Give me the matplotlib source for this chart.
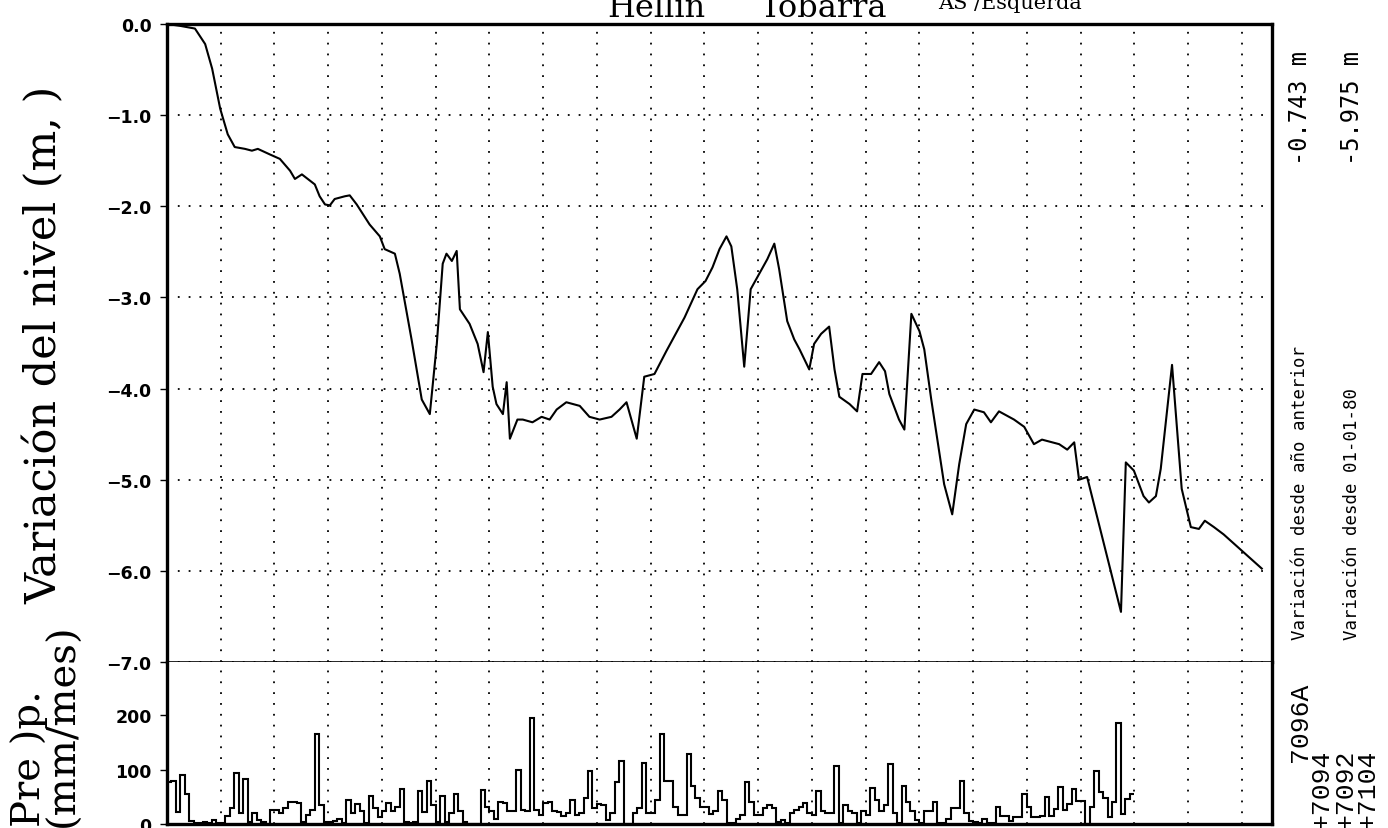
import numpy as np
import matplotlib
matplotlib.use('Agg')
import matplotlib.pyplot as plt

plt.rcParams['font.family'] = ['DejaVu Sans']

# nivel piezometrico: anos desde 01-01-80 y variacion (m)
t_nivel = [0.00, 0.24, 0.52, 0.71, 0.84, 0.99, 1.13, 1.26, 1.45, 1.58, 1.69, 1.91,
           2.10, 2.29, 2.38, 2.51, 2.75, 2.84, 2.94, 3.03, 3.12, 3.31, 3.40, 3.53,
           3.77, 3.96, 4.05, 4.24, 4.33, 4.55, 4.74, 4.89, 5.02, 5.13, 5.20, 5.30,
           5.39, 5.45, 5.63, 5.78, 5.89, 5.97, 6.06, 6.13, 6.25, 6.32, 6.38, 6.52,
           6.62, 6.80, 6.97, 7.12, 7.25, 7.43, 7.68, 7.86, 8.05, 8.27, 8.42, 8.55,
           8.74, 8.88, 9.07, 9.29, 9.63, 9.87, 10.02, 10.15, 10.28, 10.41, 10.50, 10.61,
           10.74, 10.86, 11.02, 11.17, 11.30, 11.39, 11.54, 11.67, 11.77, 11.86, 11.95, 12.04,
           12.17, 12.32, 12.42, 12.51, 12.70, 12.84, 12.94, 13.10, 13.25, 13.36, 13.44, 13.62,
           13.72, 13.85, 14.00, 14.09, 14.22, 14.46, 14.61, 14.74, 14.87, 15.02, 15.20, 15.33,
           15.48, 15.76, 15.95, 16.13, 16.28, 16.60, 16.75, 16.88, 16.97, 17.12, 17.75, 17.84,
           17.99, 18.17, 18.27, 18.40, 18.49, 18.70, 18.88, 19.05, 19.20, 19.31, 19.48, 19.66,
           20.37]
nivel = [0.00, -0.02, -0.05, -0.22, -0.49, -0.93, -1.21, -1.35, -1.37, -1.39, -1.37, -1.43,
         -1.48, -1.61, -1.70, -1.65, -1.76, -1.89, -1.98, -1.99, -1.92, -1.89, -1.88, -1.98,
         -2.20, -2.33, -2.47, -2.52, -2.74, -3.46, -4.12, -4.28, -3.51, -2.63, -2.52, -2.60,
         -2.49, -3.13, -3.29, -3.51, -3.82, -3.38, -3.98, -4.17, -4.28, -3.93, -4.55, -4.34,
         -4.34, -4.37, -4.31, -4.34, -4.23, -4.15, -4.19, -4.31, -4.34, -4.31, -4.23, -4.15,
         -4.55, -3.87, -3.84, -3.59, -3.22, -2.91, -2.82, -2.67, -2.47, -2.33, -2.44, -2.91,
         -3.76, -2.91, -2.74, -2.58, -2.41, -2.69, -3.26, -3.46, -3.57, -3.68, -3.79, -3.51,
         -3.40, -3.32, -3.79, -4.09, -4.17, -4.25, -3.84, -3.84, -3.71, -3.81, -4.06, -4.34,
         -4.45, -3.18, -3.37, -3.57, -4.12, -5.05, -5.38, -4.83, -4.39, -4.23, -4.26, -4.37,
         -4.25, -4.34, -4.42, -4.61, -4.56, -4.61, -4.67, -4.59, -5.00, -4.97, -6.45, -4.81,
         -4.90, -5.18, -5.25, -5.18, -4.88, -3.74, -5.10, -5.52, -5.54, -5.45, -5.52, -5.60,
         -5.975]

# precipitacion mensual (mm/mes)
p1980 = [78, 80, 22, 90, 55, 5, 2, 1, 3, 1, 7, 1]
p1981 = [2, 15, 30, 94, 20, 83, 4, 21, 7, 3, 0, 26]
p1982 = [26, 20, 29, 41, 40, 38, 4, 17, 26, 165, 35, 4]
p1983 = [4, 6, 9, 2, 44, 20, 36, 23, 2, 51, 29, 12]
p1984 = [23, 38, 23, 32, 64, 3, 1, 3, 61, 22, 80, 35]
p1985 = [3, 52, 4, 20, 55, 24, 4, 0, 0, 0, 62, 32]
p1986 = [23, 10, 40, 38, 23, 23, 100, 26, 23, 195, 26, 17]
p1987 = [38, 40, 23, 22, 14, 21, 44, 17, 20, 47, 97, 29]
p1988 = [37, 35, 7, 20, 78, 115, 0, 0, 21, 29, 113, 20]
p1989 = [20, 44, 166, 80, 80, 32, 17, 17, 128, 69, 48, 32]
p1990 = [32, 18, 23, 60, 44, 2, 1, 10, 17, 78, 41, 17]
p1991 = [17, 29, 35, 29, 4, 8, 2, 20, 26, 32, 38, 20]
p1992 = [17, 60, 23, 20, 20, 106, 2, 35, 23, 20, 2, 23]
p1993 = [17, 66, 44, 23, 35, 110, 20, 1, 69, 41, 23, 7]
p1994 = [2, 24, 24, 41, 2, 2, 10, 29, 30, 80, 20, 5]
p1995 = [3, 1, 10, 1, 2, 31, 15, 15, 5, 12, 12, 56]
p1996 = [31, 12, 12, 15, 50, 15, 28, 68, 25, 37, 65, 43]
p1997 = [43, 0, 31, 97, 59, 48, 12, 41, 185, 19, 46, 56]

precip = (p1980 + p1981 + p1982 + p1983 + p1984 + p1985 + p1986 + p1987 + p1988
          + p1989 + p1990 + p1991 + p1992 + p1993 + p1994 + p1995 + p1996 + p1997)

nivel_ticks = [0, -1, -2, -3, -4, -5, -6, -7]
prec_ticks = [0, 100, 200]
estaciones = ['7096A', '+7094', '+7092', '+7104']

W, H = 1388, 829
fig = plt.figure(figsize=(W / 100, H / 100), dpi=100)


def box(x0, y0, x1, y1):
    return [x0 / W, 1 - y1 / H, (x1 - x0) / W, (y1 - y0) / H]


ax = fig.add_axes(box(167, 25, 1272, 663))
axp = fig.add_axes(box(167, 663, 1272, 825))

dots = (0, (1, 5))
years = np.arange(1981, 2001)
x_fin = 2000.56

# --- nivel ---
ax.plot(1980 + np.array(t_nivel), nivel, color='black', lw=1.5)
ax.set_xlim(1980, x_fin)
ax.set_ylim(-7, 0)
ax.set_xticks(years)
ax.set_yticks(nivel_ticks)
ax.set_yticklabels(['0.0' if v == 0 else '\u2212%.1f' % abs(v) for v in nivel_ticks])
ax.tick_params(axis='x', length=0, labelbottom=False)
ax.tick_params(axis='y', direction='out', length=5, width=1, pad=6, labelsize=12.5)
ax.grid(True, color='black', linestyle=dots, lw=1.3)
for lab in ax.get_yticklabels():
    lab.set_fontweight('bold')
for s in ['left', 'top', 'right']:
    ax.spines[s].set_linewidth(2.4)
ax.spines['bottom'].set_linewidth(1.2)

# --- precipitacion ---
edges = 1980 + np.arange(len(precip) + 1) / 12
axp.stairs(precip, edges, baseline=None, color='black', lw=1.5)
axp.set_xlim(1980, x_fin)
axp.set_ylim(0, 298)
axp.set_xticks(years)
axp.set_yticks(prec_ticks)
axp.tick_params(axis='x', length=0, labelbottom=False)
axp.tick_params(axis='y', direction='out', length=5, width=1, pad=6, labelsize=12.5)
axp.grid(True, axis='x', color='black', linestyle=dots, lw=1.3)
for lab in axp.get_yticklabels():
    lab.set_fontweight('bold')
axp.spines['top'].set_visible(False)
for s in ['left', 'bottom', 'right']:
    axp.spines[s].set_linewidth(2.4)

# --- textos ---
serif = 'DejaVu Serif'
fig.text(45 / W, 1 - 345 / H, 'Variación del nivel (m, )', rotation=90,
         ha='center', va='center', family=serif, size=31)
fig.text(29 / W, 2 / H, 'Pre )p.', rotation=90, ha='center', va='bottom',
         family=serif, size=29)
fig.text(63 / W, 2 / H, '(mm/mes)', rotation=90, ha='center', va='bottom',
         family=serif, size=29)

fig.text(705 / W, 1 - 17 / H, 'Hellín', ha='right', va='baseline', family=serif, size=23)
fig.text(760 / W, 1 - 17 / H, 'Tobarra', ha='left', va='baseline', family=serif, size=23)
fig.text(938 / W, 1 - 9 / H, 'AS /Esquerda', ha='left', va='baseline', family=serif, size=15)

mono = 'DejaVu Sans Mono'
fig.text(1300 / W, 1 - 640 / H, 'Variación desde año anterior', rotation=90,
         ha='center', va='bottom', family=mono, size=12.5)
fig.text(1300 / W, 1 - 165 / H, '-0.743 m', rotation=90,
         ha='center', va='bottom', family=mono, size=17)
fig.text(1352 / W, 1 - 640 / H, 'Variación desde 01-01-80', rotation=90,
         ha='center', va='bottom', family=mono, size=12.5)
fig.text(1352 / W, 1 - 165 / H, '-5.975 m', rotation=90,
         ha='center', va='bottom', family=mono, size=17)

cod_x = [1300, 1322, 1345, 1368]
cod_y = [762, 829, 829, 829]
for s, x, y in zip(estaciones, cod_x, cod_y):
    fig.text(x / W, 1 - y / H, s, rotation=90, ha='center', va='bottom',
             family='Liberation Mono', size=19)

fig.savefig('out.png', dpi=100)
